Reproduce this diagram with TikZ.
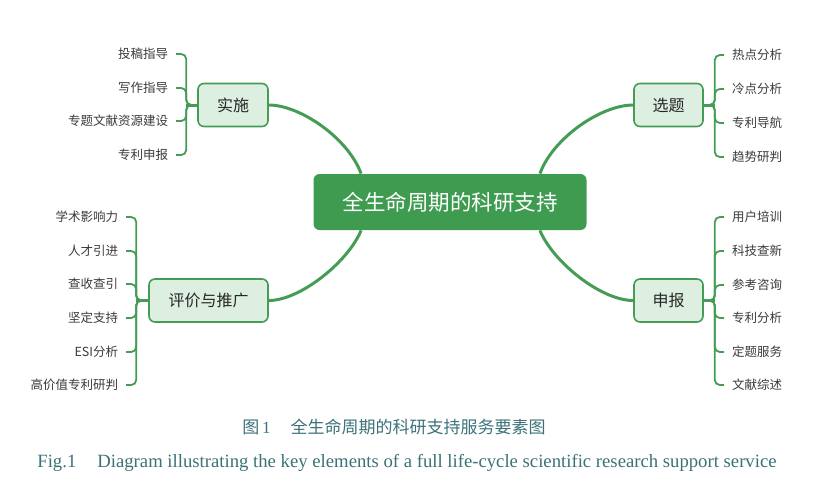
\documentclass[tikz,border=0pt]{standalone}
\usepackage{fontspec}
\setmainfont{Liberation Serif}
\newfontfamily\cjk{Noto Sans CJK SC}
\definecolor{coregreen}{HTML}{3E9B4F}
\definecolor{linegreen}{HTML}{449C55}
\definecolor{palegreen}{HTML}{DDEFE0}
\definecolor{leafgray}{HTML}{3A3A3A}
\definecolor{capteal}{HTML}{3A7278}

\begin{document}
\begin{tikzpicture}[x=1pt, y=-1pt, thick,
		core/.style={fill=coregreen, rounded corners=6pt, minimum width=273pt, minimum height=56pt,
			text=white, font=\cjk\fontsize{21.5}{24}\selectfont},
		branch/.style={draw=linegreen, line width=1.6pt, fill=palegreen, rounded corners=6pt,
			minimum height=43pt, text=black!85, font=\cjk\fontsize{16}{18}\selectfont},
		leaf/.style={inner sep=0pt, outer xsep=8pt, text=leafgray, font=\cjk\fontsize{12.5}{14}\selectfont},
		link/.style={draw=linegreen, line width=3pt},
		twig/.style={draw=linegreen, line width=1.8pt, rounded corners=5pt}]
				\useasboundingbox (0,0) rectangle (818,491);
				% centre topic
				\node[core] (core) at (450,202) {全生命周期的科研支持};
				% branch topics
				\node[branch, minimum width=70pt] (shishi) at (233,105) {实施};
				\node[branch, minimum width=69pt] (xuanti) at (668.5,105) {选题};
				\node[branch, minimum width=119pt] (pingjia) at (208.5,300.5) {评价与推广};
				\node[branch, minimum width=69pt] (shenbao) at (668.5,300.5) {申报};
				% links from the centre
				\draw[link] (shishi.east) .. controls (300,105) and (348,138) .. ([xshift=48pt]core.north west);
				\draw[link] (xuanti.west) .. controls (601,105) and (553,138) .. ([xshift=-47pt]core.north east);
				\draw[link] (pingjia.east) .. controls (300,300.5) and (348,262) .. ([xshift=48pt]core.south west);
				\draw[link] (shenbao.west) .. controls (601,300.5) and (553,262) .. ([xshift=-47pt]core.south east);
				
				% leaves of shishi
				\draw[link] (shishi.west) -- ++(-11,0);
				\foreach \name/\y/\txt in {a/54/投稿指导, b/88/写作指导, c/121/专题文献资源建设, d/155/专利申报}{
					\node[leaf, anchor=east] (shishi-\name) at (176,\y) {\txt};
					\draw[twig] (shishi.west) -- ++(-11,0) |- (shishi-\name.east);
				}
				% leaves of xuanti
				\draw[link] (xuanti.east) -- ++(11,0);
				\foreach \name/\y/\txt in {a/55/热点分析, b/89/冷点分析, c/123/专利导航, d/157/趋势研判}{
					\node[leaf, anchor=west] (xuanti-\name) at (724,\y) {\txt};
					\draw[twig] (xuanti.east) -- ++(11,0) |- (xuanti-\name.west);
				}
				% leaves of pingjia
				\draw[link] (pingjia.west) -- ++(-12,0);
				\foreach \name/\y/\txt in {a/217/学术影响力, b/251/人才引进, c/284/查收查引, d/318/坚定支持, e/352/ESI分析, f/385/高价值专利研判}{
					\node[leaf, anchor=east] (pingjia-\name) at (126,\y) {\txt};
					\draw[twig] (pingjia.west) -- ++(-12,0) |- (pingjia-\name.east);
				}
				% leaves of shenbao
				\draw[link] (shenbao.east) -- ++(11,0);
				\foreach \name/\y/\txt in {a/217/用户培训, b/251/科技查新, c/285/参考咨询, d/318/专利分析, e/352/定题服务, f/385/文献综述}{
					\node[leaf, anchor=west] (shenbao-\name) at (724,\y) {\txt};
					\draw[twig] (shenbao.east) -- ++(11,0) |- (shenbao-\name.west);
				}
				
				% captions
				\node[anchor=west, inner sep=0pt, text=capteal, font=\fontsize{17}{19}\selectfont] (capzh) at (242,427)
					{{\cjk 图}\,1\hspace{20pt}{\cjk 全生命周期的科研支持服务要素图}};
				\node[anchor=base west, inner sep=0pt, text=capteal, font=\fontsize{18.7}{21}\selectfont] (capen) at (37,467)
					{Fig.1\hspace{21pt}Diagram illustrating the key elements of a full life-cycle scientific research support service};
			\end{tikzpicture}
\end{document}
